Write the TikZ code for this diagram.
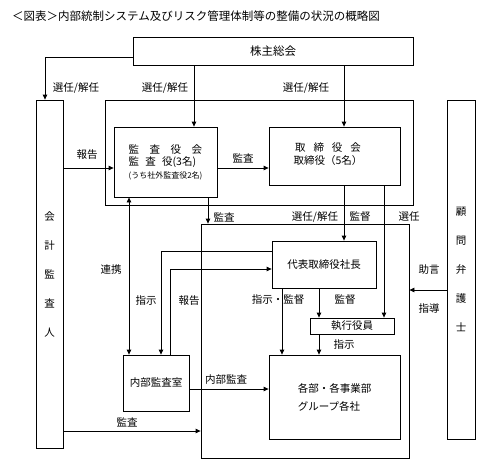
\documentclass[tikz,border=0pt]{standalone}
\usepackage{fontspec}
\newfontfamily\jp{Noto Sans CJK JP}
\usetikzlibrary{arrows.meta}
\begin{document}
\begin{tikzpicture}[x=1pt,y=-1pt,
  font=\jp\fontsize{10.5}{12.5}\selectfont,
  >={Triangle[length=5pt,width=4.5pt]},
  box/.style={draw,line width=0.8pt,inner sep=0pt},
  lbl/.style={inner sep=0pt},
  arr/.style={line width=0.8pt,->},
  darr/.style={line width=0.8pt,<->},
  ln/.style={line width=0.8pt}]
\useasboundingbox (0,0) rectangle (479,463);
% title
\node[lbl,anchor=west,font=\jp\fontsize{11.5}{13}\selectfont] (title) at (12,16) {＜図表＞内部統制システム及びリスク管理体制等の整備の状況の概略図};
% boxes
\node[box,minimum width=280,minimum height=28,font=\jp\fontsize{11.5}{13}\selectfont] (kabu) at (273,51) {株主総会};
\node[box,minimum width=308,minimum height=105] (outer1) at (259,152.5) {};
\node[box,minimum width=208,minimum height=234] (outer2) at (305,341) {};
\node[box,minimum width=27,minimum height=348,align=center,font=\jp\fontsize{10.5}{29}\selectfont] (kaikei) at (49.5,274) {会\\計\\監\\査\\人};
\node[box,minimum width=28,minimum height=339,align=center,font=\jp\fontsize{10.5}{29}\selectfont] (komon) at (461,269.5) {顧\\問\\弁\\護\\士};
\node[box,minimum width=103,minimum height=70,align=left] (kansa) at (165.5,162) {監\hspace{1em}査\hspace{1em}役\hspace{1em}会\\監\hspace{.6em}査\hspace{.6em}役(3名)\\{\fontsize{8}{12.5}\selectfont (うち社外監査役2名)}};
\node[box,minimum width=131,minimum height=58] (tori) at (334.5,156) {};
\node[lbl,align=center] (toritext) at (328,154) {取\hspace{.75em}締\hspace{.75em}役\hspace{.75em}会\\取締役（5名）};
\node[box,minimum width=104,minimum height=47] (daihyo) at (324,264.5) {代表取締役社長};
\node[box,minimum width=84,minimum height=16] (shikko) at (352,326) {執行役員};
\node[box,minimum width=66,minimum height=56] (naibu) at (156,383) {内部監査室};
\node[box,minimum width=131,minimum height=84,align=left,font=\jp\fontsize{10.5}{18}\selectfont] (kakubu) at (334.5,397) {各部・各事業部\\グループ各社};
% helper coordinates
\coordinate (xa) at (45,0);
\coordinate (c194) at (194,0);
\coordinate (c344) at (344,0);
\coordinate (c384) at (384,0);
\coordinate (c208) at (208,0);
\coordinate (c129) at (129,0);
\coordinate (c161) at (161,0);
\coordinate (c170) at (170,0);
\coordinate (c282) at (282,0);
\coordinate (c319) at (319,0);
\coordinate (y57) at (0,57);
\coordinate (y168) at (0,168);
\coordinate (y251) at (0,251);
\coordinate (y269) at (0,269);
\coordinate (y389) at (0,389);
\coordinate (y431) at (0,431);
\coordinate (y290) at (0,290);
% connectors
\draw[arr] (kabu.west |- y57) -| (kaikei.north -| xa);
\draw[arr] (kabu.south -| c194) -- (kansa.north -| c194);
\draw[arr] (kabu.south -| c344) -- (tori.north -| c344);
\draw[arr] (tori.south -| c344) -- (daihyo.north -| c344);
\draw[arr] (tori.south -| c384) -- (shikko.north -| c384);
\draw[arr] (kaikei.east |- y168) -- (kansa.west |- y168);
\draw[arr] (kansa.east |- y168) -- (tori.west |- y168);
\draw[arr] (kansa.south -| c208) -- (outer2.north -| c208);
\draw[darr] (kansa.south -| c129) -- (naibu.north -| c129);
\draw[arr] (daihyo.west |- y251) -| (naibu.north -| c161);
\draw[arr] (naibu.north -| c170) |- (daihyo.west |- y269);
\draw[arr] (daihyo.south -| c282) -- (kakubu.north -| c282);
\draw[arr] (daihyo.south -| c319) -- (shikko.north -| c319);
\draw[arr] (shikko.south -| c319) -- (kakubu.north -| c319);
\draw[arr] (naibu.east |- y389) -- (kakubu.west |- y389);
\draw[arr] (kaikei.east |- y431) -- (outer2.west |- y431);
\draw[arr] (komon.west |- y290) -- (outer2.east |- y290);
% labels
\node[lbl] (l1) at (76,88) {選任/解任};
\node[lbl] (l2) at (165,88) {選任/解任};
\node[lbl] (l3) at (306,88) {選任/解任};
\node[lbl] (l4) at (87,155) {報告};
\node[lbl] (l5) at (243,158) {監査};
\node[lbl] (l6) at (224,217) {監査};
\node[lbl] (l7) at (315,217) {選任/解任};
\node[lbl] (l8) at (360,217) {監督};
\node[lbl] (l9) at (409,217) {選任};
\node[lbl] (l10) at (111,270) {連携};
\node[lbl] (l11) at (146,301) {指示};
\node[lbl] (l12) at (189,301) {報告};
\node[lbl] (l13) at (278,300) {指示・監督};
\node[lbl] (l14) at (345,300) {監督};
\node[lbl] (l15) at (344,345) {指示};
\node[lbl] (l16) at (226,380) {内部監査};
\node[lbl] (l17) at (127,422) {監査};
\node[lbl] (l18) at (429,270) {助言};
\node[lbl] (l19) at (429,308) {指導};
\end{tikzpicture}
\end{document}
